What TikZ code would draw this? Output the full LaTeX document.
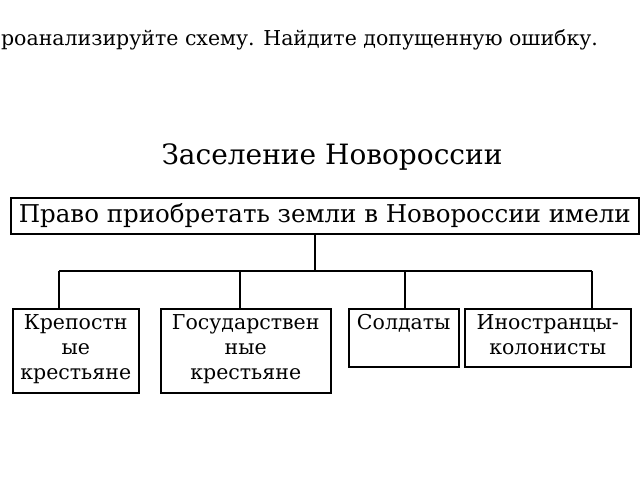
\documentclass[tikz,border=0pt]{standalone}
\usepackage{fontspec}
\setmainfont{DejaVu Serif}
\begin{document}
\begin{tikzpicture}[x=1pt,y=-1pt,
  box/.style={draw,line width=1.5pt,anchor=north west,inner sep=0pt},
  bt/.style={anchor=north,align=center,inner sep=1pt,yshift=-5pt,font=\fontsize{20.5}{25}\selectfont},
  ln/.style={line width=1.5pt}]
\useasboundingbox (0,0) rectangle (640,480);
\clip (0,0) rectangle (640,480);
\node[anchor=west,inner sep=0pt,font=\fontsize{20.5}{24}\selectfont] (q) at (-17,40) {Проанализируйте схему. Найдите допущенную ошибку.};
\node[font=\fontsize{28}{32}\selectfont] (t) at (332,157) {Заселение Новороссии};
\node[box,minimum width=628,minimum height=36] (m) at (10,197) {};
\node[font=\fontsize{24.5}{28}\selectfont,inner sep=0pt] at (m.center) {Право приобретать земли в Новороссии имели};
\node[box,minimum width=126,minimum height=84] (b1) at (12,308) {};
\node[bt] at (b1.north) {Крепостн\\ые\\крестьяне};
\node[box,minimum width=170,minimum height=84] (b2) at (160,308) {};
\node[bt] at (b2.north) {Государствен\\ные\\крестьяне};
\node[box,minimum width=110,minimum height=58] (b3) at (348,308) {};
\node[bt] at (b3.north) {Солдаты};
\node[box,minimum width=166,minimum height=58] (b4) at (464,308) {};
\node[bt] at (b4.north) {Иностранцы-\\колонисты};
\coordinate (j) at (315,271);
\coordinate (h1) at (59,271);
\coordinate (h2) at (240,271);
\coordinate (h3) at (405,271);
\coordinate (h4) at (592,271);
\draw[ln] (m.south -| j) -- (j);
\draw[ln] (h1) -- (h4);
\draw[ln] (h1) -- (h1 |- b1.north);
\draw[ln] (h2) -- (h2 |- b2.north);
\draw[ln] (h3) -- (h3 |- b3.north);
\draw[ln] (h4) -- (h4 |- b4.north);
\end{tikzpicture}
\end{document}
